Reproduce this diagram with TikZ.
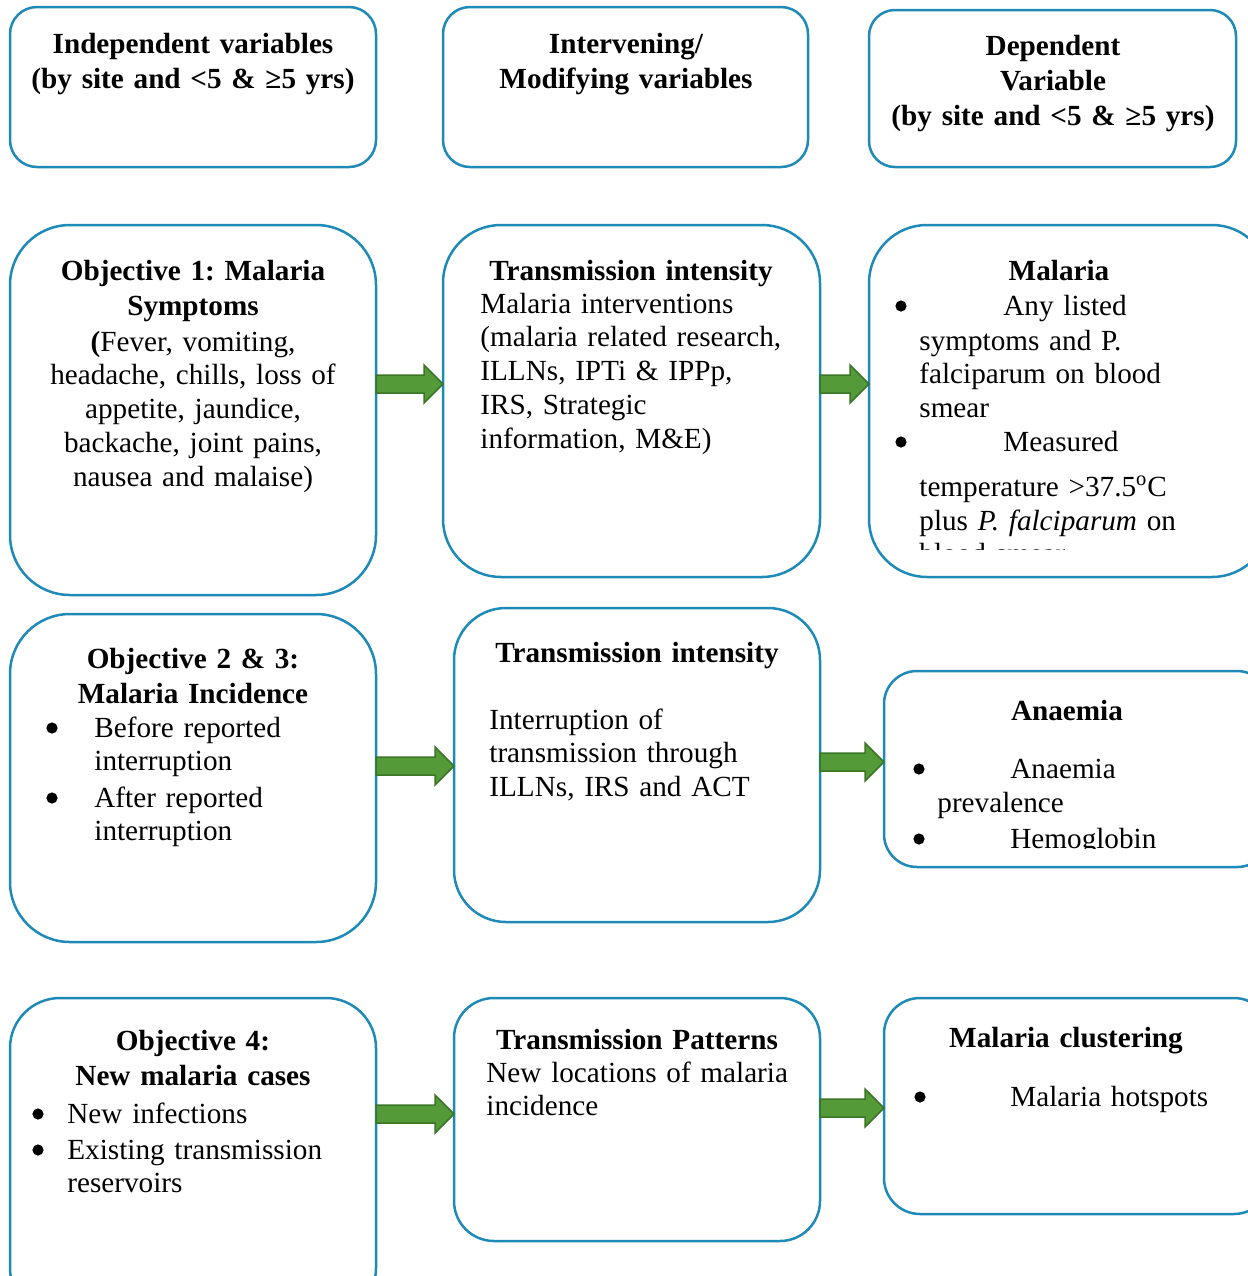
\documentclass[tikz,border=0pt]{standalone}
\usepackage{fontspec}
\setmainfont{Liberation Serif}
\usetikzlibrary{positioning}
\usetikzlibrary{calc}

\definecolor{boxblue}{RGB}{30,138,184}
\definecolor{arrgreen}{RGB}{84,154,56}
\definecolor{arredge}{RGB}{58,118,38}

\newcommand{\fs}{\fontsize{14.6}{16.9}\selectfont\frenchspacing}
\newcommand{\fsb}{\fontsize{14.6}{17.6}\selectfont\bfseries\frenchspacing}

\tikzset{
  box/.style={draw=boxblue, line width=1.25pt, inner sep=0pt, outer sep=0pt, anchor=north west},
  title/.style={font=\fsb, inner sep=0pt, anchor=base, text width=180pt, align=center},
  body/.style={font=\fs, inner sep=0pt, anchor=base west, text width=180pt, align=left},
  bodyc/.style={font=\fs, inner sep=0pt, anchor=base, text width=180pt, align=center},
  dot/.style={circle, fill=black, inner sep=0pt, minimum size=5.6pt},
  arrowbody/.style={fill=arrgreen, draw=arredge, line width=0.75pt, line join=miter}
}

% block arrow from box #1 to box #2 at height #3
\newcommand{\garrow}[3]{%
  \path (#1.east |- 0,#3) coordinate (#1s) (#2.west |- 0,#3) coordinate (#1e);
  \filldraw[arrowbody] ($(#1s)+(0,-9)$) -- ($(#1e)+(-19,-9)$) -- ($(#1e)+(-19,-19)$)
    -- (#1e) -- ($(#1e)+(-19,19)$) -- ($(#1e)+(-19,9)$) -- ($(#1s)+(0,9)$) -- cycle;
}

\begin{document}
\begin{tikzpicture}[x=0.5pt,y=-0.5pt]
\useasboundingbox (0,0) rectangle (1248,1276);
\clip (0,0) rectangle (1248,1276);

% header row
\node[box, minimum width=183pt, minimum height=80pt, rounded corners=13.5pt] (a0) at (10,7) {};
\node[box, minimum width=182.5pt, minimum height=80pt, rounded corners=13.5pt] (b0) at (443,7) {};
\node[box, minimum width=183.5pt, minimum height=78.5pt, rounded corners=13pt] (c0) at (869,10) {};
\node[title] (a0t) at (193,53) {Independent variables\\(by site and <5 \& ≥5 yrs)};
\node[title] (b0t) at (626,53) {Intervening/\\Modifying variables};
\node[title] (c0t) at (1053,55) {Dependent\\Variable\\(by site and <5 \& ≥5 yrs)};

% objective 1
\node[box, minimum width=183pt, minimum height=185pt, rounded corners=30pt] (a1) at (10,225) {};
\node[box, minimum width=188.5pt, minimum height=176pt, rounded corners=29pt] (b1) at (443,225) {};
\node[box, minimum width=200.5pt, minimum height=176pt, rounded corners=29pt] (c1) at (869,225) {};
\node[title] (a1t) at (193,280) {Objective 1: Malaria\\Symptoms};
\node[bodyc] (a1b) at (193,351) {\textbf{(}Fever, vomiting,\\headache, chills, loss of\\appetite, jaundice,\\backache, joint pains,\\nausea and malaise)};
\node[title] (b1t) at (631,280) {Transmission intensity};
\node[body] (b1b) at (480,313) {Malaria interventions\\(malaria related research,\\ILLNs, IPTi \& IPPp,\\IRS, Strategic\\information, M\&E)};
\node[title] (c1t) at (1059,280) {Malaria};
\begin{scope}
\clip (860,200) rectangle (1248,549);
\node[dot] (c1d1) at (901,306) {};
\node[body] (c1l1) at (1003,315) {Any listed};
\node[body] (c1b1) at (919,350) {symptoms and P.\\falciparum on blood\\smear};
\node[dot] (c1d2) at (901,442) {};
\node[body] (c1l2) at (1003,451) {Measured};
\node[body] (c1b2) at (919,496) {temperature >37.5\textsuperscript{o}C};
\node[body] (c1b3) at (919,530) {plus \textit{P. falciparum} on\\blood smear};
\end{scope}

% objective 2 & 3
\node[box, minimum width=183pt, minimum height=164pt, rounded corners=30pt] (a2) at (10,614) {};
\node[box, minimum width=183pt, minimum height=157pt, rounded corners=26pt] (b2) at (454,608) {};
\node[box, minimum width=193pt, minimum height=98pt, rounded corners=16.5pt] (c2) at (884,671) {};
\node[title] (a2t) at (193,668) {Objective 2 \& 3:\\Malaria Incidence};
\foreach \yy/\txt [count=\i] in {737/{Before reported\\interruption}, 807/{After reported\\interruption}} {
  \node[dot] (a2d\i) at (52,\yy-9) {};
  \node[body] (a2b\i) at (94,\yy) {\txt};
}
\node[title] (b2t) at (637,662) {Transmission intensity};
\node[body] (b2b) at (489,729) {Interruption of\\transmission through\\ILLNs, IRS and ACT};
\node[title] (c2t) at (1067,720) {Anaemia};
\begin{scope}
\clip (880,660) rectangle (1248,848);
\node[dot] (c2d1) at (919,769) {};
\node[body] (c2l1) at (1010,778) {Anaemia};
\node[body] (c2b1) at (937,812) {prevalence};
\node[dot] (c2d2) at (919,839) {};
\node[body] (c2l2) at (1010,848) {Hemoglobin};
\end{scope}

% objective 4
\node[box, minimum width=183pt, minimum height=160pt, rounded corners=25pt] (a3) at (10,998) {};
\node[box, minimum width=183pt, minimum height=121.5pt, rounded corners=20pt] (b3) at (454,998) {};
\node[box, minimum width=193pt, minimum height=108pt, rounded corners=18pt] (c3) at (884,998) {};
\node[title] (a3t) at (193,1050) {Objective 4:\\New malaria cases};
\foreach \yy/\txt [count=\i] in {1123/{New infections}, 1159/{Existing transmission\\reservoirs}} {
  \node[dot] (a3d\i) at (38,\yy-9) {};
  \node[body] (a3b\i) at (67,\yy) {\txt};
}
\node[title] (b3t) at (637,1049) {Transmission Patterns};
\node[body] (b3b) at (486,1082) {New locations of malaria\\incidence};
\node[title] (c3t) at (1066,1047) {Malaria clustering};
\node[dot] (c3d1) at (920,1097) {};
\node[body] (c3l1) at (1010,1106) {Malaria hotspots};

% arrows
\garrow{a1}{b1}{384}
\garrow{b1}{c1}{384}
\garrow{a2}{b2}{766}
\garrow{b2}{c2}{762}
\garrow{a3}{b3}{1114}
\garrow{b3}{c3}{1108}
\end{tikzpicture}
\end{document}
